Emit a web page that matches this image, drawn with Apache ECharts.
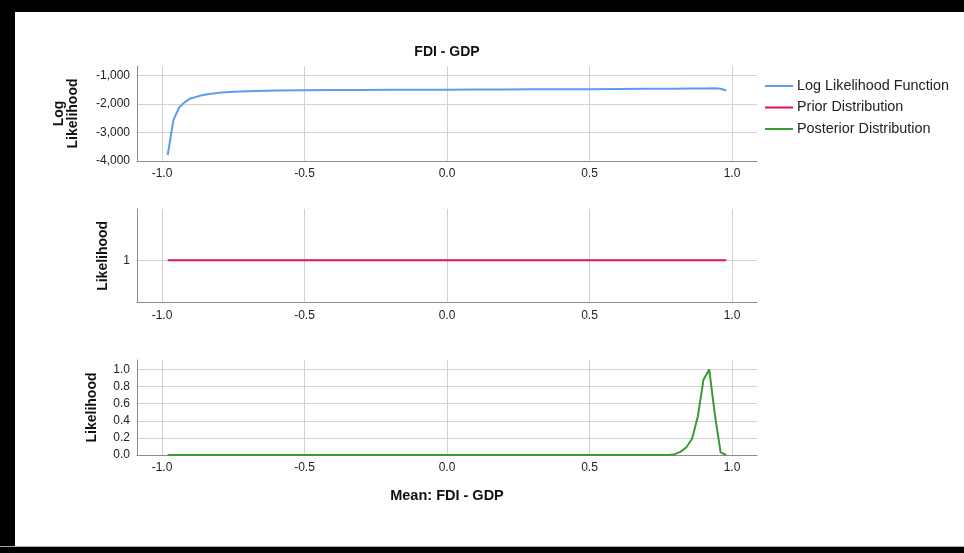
<!DOCTYPE html>
<html><head><meta charset="utf-8">
<script src="https://cdn.jsdelivr.net/npm/echarts@6/dist/echarts.min.js"></script>
<style>html,body{margin:0;padding:0;background:#fff}#c{width:964px;height:553px}</style>
</head><body><div id="c"></div><script>
// Log likelihood function
const llX = [-0.98,-0.96,-0.94,-0.92,-0.90,-0.88,-0.86,-0.84,-0.80,-0.75,-0.70,-0.60,-0.50,-0.40,-0.30,-0.20,-0.10,0.00,0.10,0.20,0.30,0.40,0.50,0.60,0.70,0.80,0.85,0.90,0.94,0.96,0.98];
const llY = [-3790,-2560,-2120,-1930,-1800,-1745,-1690,-1650,-1600,-1563,-1545,-1522,-1512,-1505,-1500,-1497,-1494,-1491,-1488,-1485,-1481,-1478,-1474,-1470,-1464,-1457,-1452,-1447,-1446,-1462,-1520];
// Prior distribution
const priorX = [-0.98, 0.98];
const priorY = [1, 1];
// Posterior distribution
const postX = [-0.98,-0.50,0.00,0.50,0.70,0.76,0.78,0.80,0.82,0.84,0.86,0.88,0.90,0.92,0.94,0.96,0.98];
const postY = [0,0,0,0,0,0,0,0.01,0.04,0.09,0.19,0.45,0.88,1.0,0.47,0.03,0.0];
// Axis ticks
const xTicks = [-1.0,-0.5,0.0,0.5,1.0];
const ll_yTicks = [-4000,-3000,-2000,-1000];
const post_yTicks = [0.0,0.2,0.4,0.6,0.8,1.0];
const seriesNames = ['Log Likelihood Function','Prior Distribution','Posterior Distribution'];

const zip = (a,b) => a.map((v,i)=>[v,b[i]]);
const font = 'Liberation Sans, Arial, sans-serif';
const X0 = -1.0877, X1 = 1.0877;
const tickFs = 12;

function xAx(gi){
  return {type:'value', gridIndex:gi, min:X0, max:X1, splitNumber:4,
    axisLine:{show:true, onZero:false, lineStyle:{color:'#8c8c8c', width:1}},
    axisTick:{show:false},
    axisLabel:{showMinLabel:false, showMaxLabel:false, color:'#222', fontSize:tickFs, fontFamily:font, margin:7,
      formatter:v=>(xTicks.some(t=>Math.abs(t-v)<1e-6) ? v.toFixed(1) : '')},
    splitLine:{show:true, showMinLine:false, showMaxLine:false, lineStyle:{color:'#d2d2d2', width:1}}
  };
}
const nameStyle = {color:'#111', fontSize:14, fontWeight:'bold', fontFamily:font, lineHeight:14};

const chart = echarts.init(document.getElementById('c'));
chart.setOption({
  animation:false,
  backgroundColor:'#fff',
  graphic:[
    {type:'rect', shape:{x:0,y:0,width:964,height:12}, style:{fill:'#000'}, silent:true},
    {type:'rect', shape:{x:0,y:0,width:15,height:553}, style:{fill:'#000'}, silent:true},
    {type:'rect', shape:{x:0,y:546,width:964,height:1}, style:{fill:'#aaa'}, silent:true},
    {type:'rect', shape:{x:0,y:547,width:964,height:6}, style:{fill:'#000'}, silent:true},
    {type:'text', x:447, y:52, style:{text:'FDI - GDP', x:0, y:0, align:'center', verticalAlign:'middle', fill:'#111', font:'bold 14px '+font}},
    {type:'text', x:447, y:496, style:{text:'Mean: FDI - GDP', x:0, y:0, align:'center', verticalAlign:'middle', fill:'#111', font:'bold 14.5px '+font}}
  ],
  legend:{orient:'vertical', left:765, top:79, padding:0, itemWidth:28, itemHeight:2, itemGap:7.5,
    icon:'rect',
    data:seriesNames.map(n=>({name:n})),
    textStyle:{color:'#222', fontSize:14.4, fontFamily:font, padding:[0,0,0,-1]}},
  grid:[
    {left:137, top:66, width:620, height:95},
    {left:137, top:209, width:620, height:93.7},
    {left:137, top:360, width:620, height:95}
  ],
  xAxis:[xAx(0), xAx(1), xAx(2)],
  yAxis:[
    {type:'value', gridIndex:0, min:ll_yTicks[0], max:-660, interval:1000,
      name:'Log\nLikelihood', nameLocation:'middle', nameGap:57, nameTextStyle:nameStyle,
      axisLine:{show:true, onZero:false, lineStyle:{color:'#8c8c8c'}}, axisTick:{show:false},
      axisLabel:{showMaxLabel:false, color:'#222', fontSize:tickFs, fontFamily:font, margin:7,
        formatter:v=>v.toLocaleString('en-US')},
      splitLine:{show:true, showMinLine:false, showMaxLine:false, lineStyle:{color:'#d2d2d2'}}},
    {type:'value', gridIndex:1, min:0.1855, max:1.9855, splitNumber:2,
      name:'Likelihood', nameLocation:'middle', nameGap:27, nameTextStyle:nameStyle,
      axisLine:{show:true, onZero:false, lineStyle:{color:'#8c8c8c'}}, axisTick:{show:false},
      axisLabel:{showMinLabel:false, showMaxLabel:false, color:'#222', fontSize:tickFs, fontFamily:font, margin:7,
        formatter:v=>(Math.abs(v-1)<1e-6 ? '1' : '')},
      splitLine:{show:true, showMinLine:false, showMaxLine:false, lineStyle:{color:'#d2d2d2'}}},
    {type:'value', gridIndex:2, min:0, max:1.11, interval:0.2,
      name:'Likelihood', nameLocation:'middle', nameGap:38, nameTextStyle:nameStyle,
      axisLine:{show:true, onZero:false, lineStyle:{color:'#8c8c8c'}}, axisTick:{show:false},
      axisLabel:{showMaxLabel:false, color:'#222', fontSize:tickFs, fontFamily:font, margin:7,
        formatter:v=>v.toFixed(1)},
      splitLine:{show:true, showMinLine:false, showMaxLine:false, lineStyle:{color:'#d2d2d2'}}}
  ],
  series:[
    {name:seriesNames[0], type:'line', xAxisIndex:0, yAxisIndex:0, data:zip(llX,llY), symbol:'none', smooth:false,
      lineStyle:{color:'#5b9cf0', width:2}, itemStyle:{color:'#5b9cf0'}},
    {name:seriesNames[1], type:'line', xAxisIndex:1, yAxisIndex:1, data:zip(priorX,priorY), symbol:'none',
      lineStyle:{color:'#e0144c', width:2}, itemStyle:{color:'#e0144c'}},
    {name:seriesNames[2], type:'line', xAxisIndex:2, yAxisIndex:2, data:zip(postX,postY), symbol:'none',
      lineStyle:{color:'#3a9b35', width:2}, itemStyle:{color:'#3a9b35'}}
  ]
});
</script></body></html>
